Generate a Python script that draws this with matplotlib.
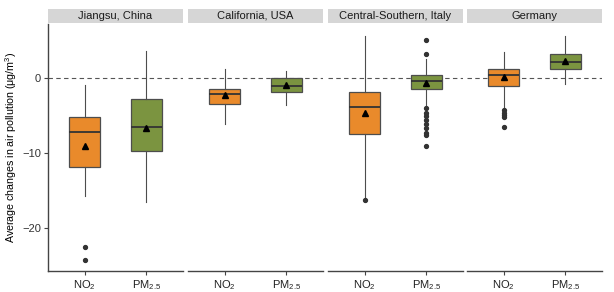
import matplotlib.pyplot as plt
from matplotlib.patches import Rectangle

plt.rcParams['font.family'] = ['Liberation Sans', 'DejaVu Sans']
plt.rcParams['mathtext.fontset'] = 'custom'
plt.rcParams['mathtext.rm'] = 'Liberation Sans'
plt.rcParams['mathtext.it'] = 'Liberation Sans'

regions = ['Jiangsu, China', 'California, USA', 'Central-Southern, Italy', 'Germany']
pollutants = ['NO$_2$', 'PM$_{2.5}$']

# box statistics per region: [NO2, PM2.5]
q1 = [[-11.9, -9.7], [-3.5, -1.8], [-7.5, -1.4], [-1.0, 1.2]]
med = [[-7.2, -6.5], [-2.1, -1.0], [-3.9, -0.4], [0.45, 2.2]]
q3 = [[-5.2, -2.8], [-1.4, 0.0], [-1.8, 0.35], [1.2, 3.2]]
whislo = [[-15.7, -16.5], [-6.1, -3.6], [-15.8, -3.7], [-3.8, -0.8]]
whishi = [[-0.9, 3.6], [1.2, 1.0], [5.6, 2.6], [3.5, 5.6]]
means = [[-9.0, -6.7], [-2.2, -0.9], [-4.6, -0.6], [0.1, 2.3]]
fliers = [
    [[-22.5, -24.3], []],
    [[], []],
    [[-16.2], [5.1, 3.2, -4.0, -4.6, -5.1, -5.6, -6.1, -6.7, -7.3, -7.6, -9.1]],
    [[-4.3, -4.6, -4.9, -5.2, -6.5], []],
]

colors = ['#E98A2B', '#7B9440']
W, H = 614, 292
fig = plt.figure(figsize=(W / 100, H / 100), dpi=100)

lefts = [48, 188, 328, 467]
pw = 135
top, bottom = 24, 271

for i, reg in enumerate(regions):
    ax = fig.add_axes([lefts[i] / W, 1 - bottom / H, pw / W, (bottom - top) / H])
    stats = []
    for j in range(2):
        stats.append(dict(q1=q1[i][j], med=med[i][j], q3=q3[i][j], whislo=whislo[i][j],
                          whishi=whishi[i][j], mean=means[i][j], fliers=fliers[i][j]))
    ax.axhline(0, color='#555555', lw=0.8, ls=(0, (4, 3)), zorder=1)
    bp = ax.bxp(stats, positions=[1, 2], widths=0.5, patch_artist=True, showmeans=True,
                showcaps=False,
                boxprops=dict(edgecolor='#4d4d4d', lw=0.9),
                medianprops=dict(color='#333333', lw=1.3),
                whiskerprops=dict(color='#4d4d4d', lw=0.8),
                meanprops=dict(marker='^', markerfacecolor='black', markeredgecolor='black', markersize=4),
                flierprops=dict(marker='o', markerfacecolor='#333333', markeredgecolor='#333333', markersize=2.8))
    for b, c in zip(bp['boxes'], colors):
        b.set_facecolor(c)
        b.set_zorder(2)
    ax.set_xlim(0.4, 2.6)
    ax.set_ylim(-25.7, 7.2)
    ax.set_xticks([1, 2])
    ax.set_xticklabels(pollutants, fontsize=8, color='#222222')
    ax.set_yticks([0, -10, -20])
    for s in ['top', 'right']:
        ax.spines[s].set_visible(False)
    ax.spines['bottom'].set_color('#444444')
    ax.spines['bottom'].set_linewidth(1.0)
    ax.tick_params(axis='x', length=3, width=0.8, color='#444444', pad=2)
    if i == 0:
        ax.spines['left'].set_color('#444444')
        ax.spines['left'].set_linewidth(1.0)
        ax.set_yticklabels(['0', '\u221210', '\u221220'], fontsize=8, color='#333333')
        ax.tick_params(axis='y', length=3, width=0.8, color='#444444', pad=2)
        ax.set_ylabel('Average changes in air pollution (\u03bcg/m$^3$)', fontsize=7.7)
        ax.yaxis.set_label_coords(-29 / pw, 0.5)
    else:
        ax.spines['left'].set_visible(False)
        ax.tick_params(axis='y', left=False, labelleft=False)
    # strip
    sx = fig.add_axes([lefts[i] / W, 1 - 23 / H, pw / W, 14 / H])
    sx.add_patch(Rectangle((0, 0), 1, 1, facecolor='#D6D6D6', edgecolor='none'))
    sx.set_xlim(0, 1)
    sx.set_ylim(0, 1)
    sx.axis('off')
    sx.text(0.5, 0.5, reg, ha='center', va='center', fontsize=8, color='#1a1a1a')

fig.savefig('out.png', dpi=100)
